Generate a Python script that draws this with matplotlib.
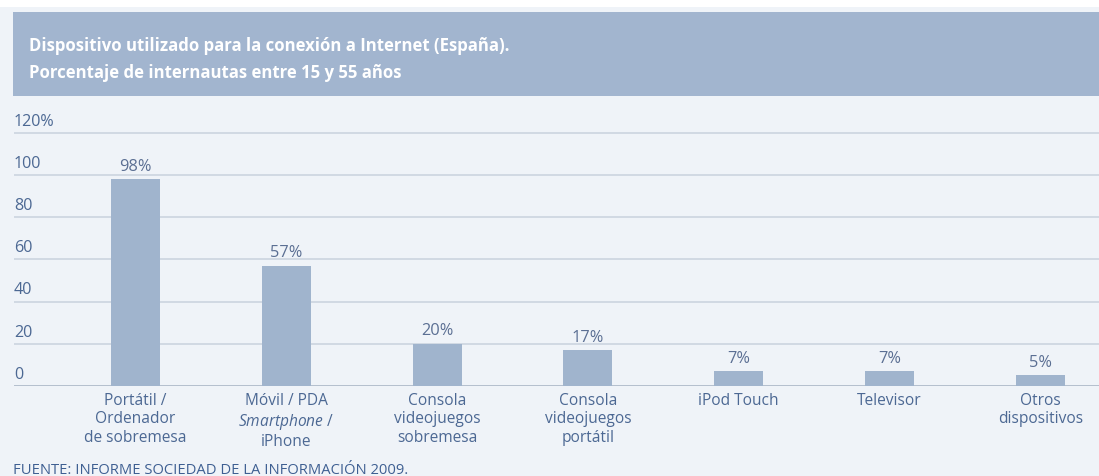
import matplotlib.pyplot as plt
import matplotlib.transforms as mtransforms
from matplotlib.patches import Rectangle

plt.rcParams['font.family'] = ['Open Sans', 'DejaVu Sans']
plt.rcParams['mathtext.fontset'] = 'custom'
plt.rcParams['mathtext.rm'] = 'Open Sans'
plt.rcParams['mathtext.it'] = 'Open Sans:italic'

# datos
categorias = [
    "Portátil /\nOrdenador\nde sobremesa",
    "Móvil / PDA\n$Smartphone$ /\niPhone",
    "Consola\nvideojuegos\nsobremesa",
    "Consola\nvideojuegos\nportátil",
    "iPod Touch",
    "Televisor",
    "Otros\ndispositivos",
]
porcentajes = [98, 57, 20, 17, 7, 7, 5]
ticks_y = [0, 20, 40, 60, 80, 100, 120]
etiquetas_y = ["0", "20", "40", "60", "80", "100", "120%"]

titulo = ("Dispositivo utilizado para la conexión a Internet (España).\n"
          "Porcentaje de internautas entre 15 y 55 años")
fuente = "FUENTE: INFORME SOCIEDAD DE LA INFORMACIÓN 2009."

FONDO = '#eff3f8'
BANDA = '#a2b5cf'
BARRA = '#a0b4cd'
TEXTO = '#4c6893'
REJILLA = '#ccd4df'

W, H = 1099, 477
fig = plt.figure(figsize=(W / 100, H / 100), dpi=100)
fig.patch.set_facecolor('white')

# fondo general y banda del titulo
fig.patches.append(Rectangle((0, 0), 1, 1 - 8 / H, transform=fig.transFigure,
                             facecolor=FONDO, edgecolor='none', zorder=-2))
fig.patches.append(Rectangle((13 / W, 1 - 97 / H), 1 - 13 / W, 84 / H,
                             transform=fig.transFigure, facecolor=BANDA,
                             edgecolor='none', zorder=-1))
fig.text(29 / W, 1 - 37 / H, titulo, color='white', fontsize=12.1,
         fontweight='bold', va='top', ha='left', linespacing=1.62)

# ejes: 0 en y=387px, 20 unidades = 42.2px
ymax = 122
px_unidad = 42.2 / 20
y0 = 387
ytop = y0 - ymax * px_unidad
x_izq, x_der = 14, W
ax = fig.add_axes([x_izq / W, 1 - y0 / H, (x_der - x_izq) / W, (y0 - ytop) / H])
ax.set_facecolor('none')
ax.set_zorder(1)

paso = 150.8
centro0 = 135.5
ax.set_xlim((x_izq - centro0) / paso, (x_der - centro0) / paso)
ax.set_ylim(0, ymax)

x = range(len(categorias))
ax.bar(x, porcentajes, width=0.325, color=BARRA, zorder=2)

for t in ticks_y:
    color = '#aab6c6' if t == 0 else REJILLA
    ax.axhline(t, color=color, linewidth=1.2, zorder=1)

for s in ax.spines.values():
    s.set_visible(False)
ax.set_xticks([])
ax.set_yticks([])

# etiquetas del eje y encima de cada linea
trans_y = mtransforms.blended_transform_factory(fig.transFigure, ax.transData)
for t, lab in zip(ticks_y, etiquetas_y):
    ax.annotate(lab, (14 / W, t), xycoords=trans_y, xytext=(0, 3),
                textcoords='offset points', ha='left', va='bottom',
                fontsize=11.6, color=TEXTO, annotation_clip=False)

# valores sobre las barras
for i, v in enumerate(porcentajes):
    ax.annotate(f"{v}%", (i, v), xytext=(0, 4), textcoords='offset points',
                ha='center', va='bottom', fontsize=11.8, color='#5b6f93')

# nombres de categoria bajo el eje
for i, c in enumerate(categorias):
    ax.annotate(c, (i, 0), xytext=(0, -4), textcoords='offset points',
                ha='center', va='top', fontsize=11.2, color=TEXTO,
                linespacing=1.22, annotation_clip=False)

fig.text(13 / W, 1 - 474 / H, fuente, fontsize=10.6, color='#3e5f92',
         ha='left', va='baseline')

fig.savefig('out.png', dpi=100, facecolor=fig.get_facecolor())
